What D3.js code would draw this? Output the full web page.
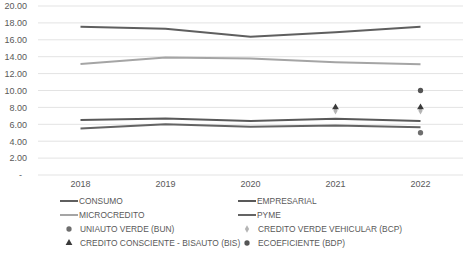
<!DOCTYPE html>
<html>
<head>
<meta charset="utf-8">
<script src="https://cdn.jsdelivr.net/npm/d3@7"></script>
<style>
  body { margin: 0; background: #fff; }
  text { font-family: "Liberation Sans", Arial, sans-serif; }
</style>
</head>
<body>
<div id="chart"></div>
<script>
// Data
const years = ["2018", "2019", "2020", "2021", "2022"];
const yTicks = [0, 2, 4, 6, 8, 10, 12, 14, 16, 18, 20];

const consumo = [17.55, 17.3, 16.35, 16.9, 17.55];
const empresarial = [6.5, 6.7, 6.4, 6.65, 6.4];
const microcredito = [13.15, 13.9, 13.8, 13.35, 13.1];
const pyme = [5.5, 6.0, 5.7, 5.85, 5.65];

// Single-product points: [year, value]
const uniauto = [["2022", 5.0]];
const creditoVerde = [["2021", 7.6], ["2022", 7.6]];
const bisauto = [["2021", 8.0], ["2022", 8.0]];
const ecoeficiente = [["2022", 10.0]];

const lineSeries = [
  { name: "CONSUMO", values: consumo, color: "#5f5f5f" },
  { name: "EMPRESARIAL", values: empresarial, color: "#595959" },
  { name: "MICROCREDITO", values: microcredito, color: "#a5a5a5" },
  { name: "PYME", values: pyme, color: "#646464" }
];

const pointSeries = [
  { name: "UNIAUTO VERDE (BUN)", values: uniauto, color: "#6e6e6e", symbol: d3.symbolCircle, size: 22 },
  { name: "CREDITO VERDE VEHICULAR (BCP)", values: creditoVerde, color: "#b5b5b5", symbol: d3.symbolDiamond, size: 16 },
  { name: "CREDITO CONSCIENTE - BISAUTO (BIS)", values: bisauto, color: "#3a3a3a", symbol: d3.symbolTriangle, size: 20 },
  { name: "ECOEFICIENTE (BDP)", values: ecoeficiente, color: "#555555", symbol: d3.symbolCircle, size: 22 }
];

const width = 463, height = 256;
const margin = { top: 6, right: 0, bottom: 81, left: 38 };
const fontSize = 8.4;

const svg = d3.select("#chart").append("svg")
  .attr("width", width).attr("height", height);

const x = d3.scaleBand()
  .domain(years)
  .range([margin.left, width - margin.right]);

const y = d3.scaleLinear()
  .domain([0, 20])
  .range([height - margin.bottom, margin.top]);

// Gridlines
svg.append("g")
  .selectAll("line")
  .data(yTicks)
  .enter()
  .append("line")
  .attr("x1", margin.left)
  .attr("x2", width - margin.right)
  .attr("y1", d => y(d))
  .attr("y2", d => y(d))
  .attr("stroke", "#e3e3e3")
  .attr("stroke-width", 1);

// Y axis labels
const yAxis = svg.append("g")
  .attr("transform", "translate(" + (margin.left - 8) + ",0)")
  .call(d3.axisLeft(y).tickValues(yTicks).tickSize(0)
    .tickFormat(d => d === 0 ? "-" : d3.format(".2f")(d)));
yAxis.select(".domain").remove();
yAxis.selectAll("text")
  .attr("fill", "#595959")
  .attr("font-size", 9)
  .attr("dx", d => d === 0 ? -5 : 0);

// X axis labels
const xAxis = svg.append("g")
  .attr("transform", "translate(0," + y(0) + ")")
  .call(d3.axisBottom(x).tickSize(0).tickPadding(6));
xAxis.select(".domain").remove();
xAxis.selectAll("text")
  .attr("fill", "#595959")
  .attr("font-size", 9);

// Lines
const line = d3.line()
  .x((d, i) => x(years[i]) + x.bandwidth() / 2)
  .y(d => y(d));

svg.append("g")
  .selectAll("path")
  .data(lineSeries)
  .enter()
  .append("path")
  .attr("d", d => line(d.values))
  .attr("fill", "none")
  .attr("stroke", d => d.color)
  .attr("stroke-width", 2);

// Point markers
pointSeries.forEach(s => {
  svg.append("g")
    .selectAll("path")
    .data(s.values)
    .enter()
    .append("path")
    .attr("d", d3.symbol().type(s.symbol).size(s.size))
    .attr("transform", d => "translate(" + (x(d[0]) + x.bandwidth() / 2) + "," + y(d[1]) + ")")
    .attr("fill", s.color);
});

// Legend
const legendCols = [60, 238];
const legendRows = [201, 215, 229, 243];
const legend = svg.append("g");

lineSeries.forEach((s, i) => {
  let lx = legendCols[i % 2], ly = legendRows[Math.floor(i / 2)];
  legend.append("line")
    .attr("x1", lx).attr("x2", lx + 18)
    .attr("y1", ly).attr("y2", ly)
    .attr("stroke", s.color).attr("stroke-width", 2);
  legend.append("text")
    .attr("x", lx + 19).attr("y", ly)
    .attr("dy", "0.35em")
    .attr("font-size", fontSize)
    .attr("fill", "#595959")
    .text(s.name);
});

pointSeries.forEach((s, i) => {
  let lx = legendCols[i % 2], ly = legendRows[2 + Math.floor(i / 2)];
  legend.append("path")
    .attr("d", d3.symbol().type(s.symbol).size(s.size))
    .attr("transform", "translate(" + (lx + 9) + "," + ly + ")")
    .attr("fill", s.color);
  legend.append("text")
    .attr("x", lx + 20).attr("y", ly)
    .attr("dy", "0.35em")
    .attr("font-size", fontSize)
    .attr("fill", "#595959")
    .text(s.name);
});
</script>
</body>
</html>
